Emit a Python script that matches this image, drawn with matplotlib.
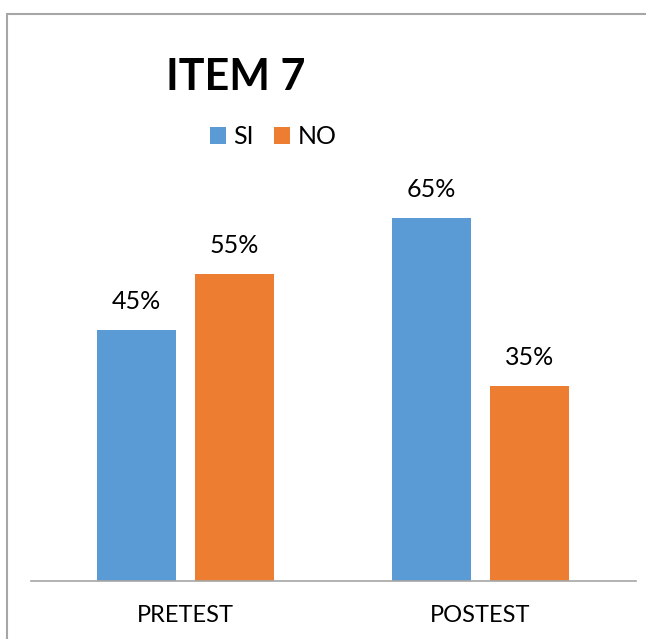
import numpy as np
import matplotlib.pyplot as plt
from matplotlib.patches import Rectangle

plt.rcParams['font.family'] = ['Lato', 'DejaVu Sans']

categorias = ['PRETEST', 'POSTEST']
si = [45, 65]
no = [55, 35]
etiquetas_si = ['45%', '65%']
etiquetas_no = ['55%', '35%']

azul = '#5B9BD5'
naranja = '#ED7D31'

fig = plt.figure(figsize=(6.46, 6.39), dpi=100)
ax = fig.add_axes([31/646, 58/639, 605/646, 390.6/639])

x = np.arange(len(categorias))
w = 0.268
off = 0.166
b1 = ax.bar(x - off, si, w, color=azul, label='SI')
b2 = ax.bar(x + off, no, w, color=naranja, label='NO')

for bars, labs in ((b1, etiquetas_si), (b2, etiquetas_no)):
    for b, lab in zip(bars, labs):
        ax.annotate(lab, (b.get_x() + b.get_width()/2, b.get_height()),
                    xytext=(0, 17), textcoords='offset pixels',
                    ha='center', va='bottom', fontsize=18, color='black')

ax.set_xlim(-0.524, 1.527)
ax.set_ylim(0, 70)
ax.set_xticks(x)
ax.set_xticklabels(categorias, fontsize=17)
ax.tick_params(axis='x', length=0, pad=17)
ax.set_yticks([])
for s in ['top', 'right', 'left']:
    ax.spines[s].set_visible(False)
ax.spines['bottom'].set_color('#A6A6A6')
ax.spines['bottom'].set_linewidth(1.2)

fig.text(236/646, 1 - 77/639, 'ITEM 7', ha='center', va='center',
         fontsize=31, fontweight='bold')
fig.legend(handles=[b1, b2], loc='center', bbox_to_anchor=(273/646, 1 - 137/639),
           ncol=2, frameon=False, fontsize=18, handlelength=0.65, handleheight=0.65,
           handletextpad=0.3, columnspacing=0.8, borderpad=0)

fig.patches.append(Rectangle((7/646, -0.1), 1.2, 1 - 14/639 + 0.1,
                             transform=fig.transFigure, fill=False,
                             edgecolor='#A6A6A6', linewidth=1.5))

fig.savefig('out.png', dpi=100)
